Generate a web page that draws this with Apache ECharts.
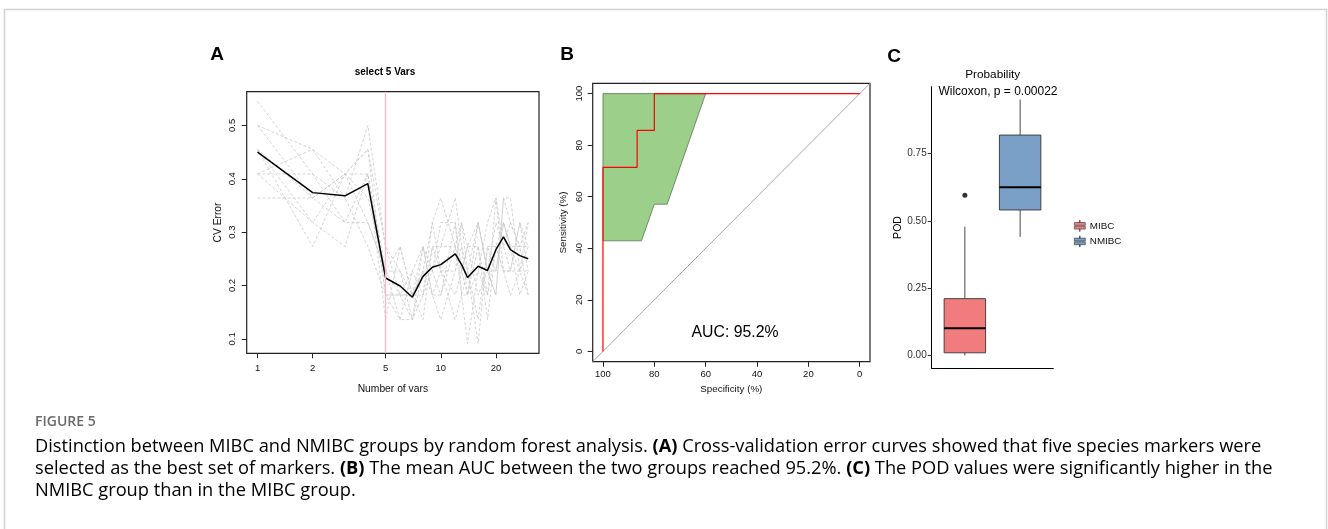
<!DOCTYPE html>
<html><head><meta charset="utf-8">
<script src="https://cdn.jsdelivr.net/npm/echarts@6/dist/echarts.min.js"></script>
<style>html,body{margin:0;padding:0;background:#fff;}#c{width:1328px;height:529px;}</style>
</head><body><div id="c"></div>
<script>
// ---------- Panel A: rfcv cross-validation error ----------
const nVars = [1,2,3,4,5,6,7,8,9,10,12,13,14,16,18,20,22,24,27,30];
const cvErrorMean = [0.450,0.374,0.368,0.391,0.214,0.199,0.178,0.217,0.234,0.239,0.259,0.239,0.215,0.236,0.228,0.267,0.291,0.267,0.256,0.250];
const cvRep1  = [0.545,0.409,0.364,0.500,0.273,0.182,0.136,0.227,0.318,0.364,0.273,0.182,0.091,0.227,0.318,0.364,0.273,0.227,0.318,0.273];
const cvRep2  = [0.500,0.455,0.409,0.318,0.227,0.273,0.182,0.273,0.182,0.136,0.227,0.318,0.273,0.318,0.227,0.182,0.364,0.364,0.227,0.318];
const cvRep3  = [0.500,0.364,0.409,0.455,0.182,0.136,0.227,0.182,0.273,0.273,0.364,0.273,0.227,0.091,0.273,0.273,0.318,0.273,0.273,0.182];
const cvRep4  = [0.455,0.318,0.273,0.409,0.227,0.227,0.136,0.273,0.227,0.318,0.318,0.227,0.273,0.273,0.182,0.364,0.227,0.182,0.227,0.227];
const cvRep5  = [0.455,0.364,0.318,0.409,0.136,0.273,0.182,0.136,0.273,0.227,0.182,0.227,0.182,0.318,0.227,0.318,0.273,0.318,0.273,0.273];
const cvRep6  = [0.455,0.273,0.409,0.364,0.227,0.182,0.182,0.227,0.227,0.182,0.273,0.318,0.227,0.136,0.273,0.227,0.318,0.273,0.182,0.227];
const cvRep7  = [0.409,0.455,0.364,0.273,0.182,0.182,0.227,0.273,0.182,0.227,0.136,0.182,0.182,0.273,0.136,0.273,0.227,0.227,0.227,0.182];
const cvRep8  = [0.409,0.318,0.409,0.455,0.273,0.227,0.182,0.182,0.227,0.273,0.273,0.227,0.273,0.182,0.227,0.182,0.364,0.318,0.273,0.318];
const cvRep9  = [0.409,0.409,0.318,0.318,0.227,0.136,0.136,0.182,0.318,0.227,0.227,0.273,0.182,0.227,0.182,0.273,0.227,0.227,0.318,0.227];
const cvRep10 = [0.364,0.364,0.409,0.409,0.182,0.182,0.182,0.227,0.182,0.182,0.318,0.182,0.227,0.318,0.227,0.227,0.318,0.273,0.227,0.273];
const cvReplicates = [cvRep1,cvRep2,cvRep3,cvRep4,cvRep5,cvRep6,cvRep7,cvRep8,cvRep9,cvRep10];
const selectedVars = 5;
const cvXTicks = [1,2,5,10,20];
const cvYTicks = [0.1,0.2,0.3,0.4,0.5];

// ---------- Panel B: ROC ----------
const rocSpecificity = [100,100,86.7,86.7,80,80,0];
const rocSensitivity = [0,71.4,71.4,85.7,85.7,100,100];
const ciSpecificity = [100,100,60,75,80,85];
const ciSensitivity = [42.9,100,100,57.1,57.1,42.9];
const rocTicks = [0,20,40,60,80,100];
const aucLabel = 'AUC: 95.2%';

// ---------- Panel C: POD boxplot ----------
const groups = ['MIBC','NMIBC'];
const podLow = [0.000,0.440];
const podQ1 = [0.010,0.540];
const podMedian = [0.101,0.624];
const podQ3 = [0.211,0.818];
const podHigh = [0.478,0.950];
const podOutlierGroup = ['MIBC'];
const podOutlierValue = [0.595];
const podTicks = [0,0.25,0.5,0.75];

// ---------- caption ----------
const captionHead = 'FIGURE 5';
const captionLines = [
  [['r','Distinction between MIBC and NMIBC groups by random forest analysis. '],['b','(A)'],['r',' Cross-validation error curves showed that five species markers were']],
  [['r','selected as the best set of markers. '],['b','(B)'],['r',' The mean AUC between the two groups reached 95.2%. '],['b','(C)'],['r',' The POD values were significantly higher in the']],
  [['r','NMIBC group than in the MIBC group.']]
];

const FONT = '"Liberation Sans", Arial, Helvetica, sans-serif';
const CAPFONT = '"Open Sans", "Noto Sans", sans-serif';
const boxColors = ['#f07c7e','#7aa0c8'];

// R-style 4% / ggplot 5% range extension
function ext(lo, hi, f){ const d=(hi-lo)*f; return [lo-d, hi+d]; }
const allCv = [].concat(...cvReplicates, cvErrorMean);
const aY = ext(Math.min(...allCv), Math.max(...allCv), 0.04);
const aXlog = ext(Math.log10(nVars[0]), Math.log10(nVars[nVars.length-1]), 0.04);
const bR = ext(0, 100, 0.04);
const cY = ext(Math.min(...podLow, ...podOutlierValue), Math.max(...podHigh, ...podOutlierValue), 0.05);

// caption font fitting: line 1 spans ~1227 px in the reference
const cv = document.createElement('canvas').getContext('2d');
function lineWidth(line, fs){ let w=0; line.forEach(([t,s])=>{ cv.font=(t==='b'?'bold ':'')+fs+'px '+CAPFONT; w+=cv.measureText(s).width;}); return w; }
const capFs = 16 * 1227 / lineWidth(captionLines[0], 16);

const tickLbl = {fontFamily: FONT, fontSize: 9.5, color: '#111'};
const nameTxt = {fontFamily: FONT, fontSize: 10.3, color: '#111'};
const noZero = {onZero:false};

const chart = echarts.init(document.getElementById('c'), null, {renderer:'canvas'});

const grids = [
  {left: 246.7, top: 91.7, width: 292.3, height: 261.6, show: true, borderColor: '#222', borderWidth: 1.2, backgroundColor: 'transparent'},
  {left: 592.7, top: 83.3, width: 277.3, height: 278.4, show: true, borderColor: '#222', borderWidth: 1.2, backgroundColor: 'transparent'},
  {left: 931.7, top: 86.7, width: 121.6, height: 281.6}
];

const xAxes = [
  {type:'log', logBase:10, gridIndex:0, position:'bottom', min: Math.pow(10,aXlog[0]), max: Math.pow(10,aXlog[1]),
   axisLine:{show:false, ...noZero}, axisTick:{show:false}, axisLabel:{show:false}, splitLine:{show:false}},
  {type:'value', gridIndex:0, position:'bottom', min: aXlog[0], max: aXlog[1],
   axisLine:{show:false, ...noZero}, splitLine:{show:false},
   axisTick:{show:true, inside:false, length:5, lineStyle:{color:'#222'}, customValues: cvXTicks.map(Math.log10)},
   axisLabel:{show:true, margin:10, ...tickLbl, customValues: cvXTicks.map(Math.log10), formatter: v => String(Math.round(Math.pow(10, v)))},
   name:'Number of vars', nameLocation:'middle', nameGap:31, nameTextStyle: nameTxt},
  {type:'value', gridIndex:1, position:'bottom', inverse:true, min:bR[0], max:bR[1],
   axisLine:{show:false, ...noZero}, splitLine:{show:false},
   axisTick:{show:true, length:5, lineStyle:{color:'#222'}, customValues: rocTicks},
   axisLabel:{margin:8, ...tickLbl, customValues: rocTicks},
   name:'Specificity (%)', nameLocation:'middle', nameGap:23, nameTextStyle:{...nameTxt, fontSize:9.8}},
  {type:'value', gridIndex:2, position:'bottom', min:0.4, max:2.6,
   axisLine:{show:true, ...noZero, lineStyle:{color:'#000', width:1}}, axisTick:{show:false}, axisLabel:{show:false}, splitLine:{show:false}}
];

const yAxes = [
  {type:'value', gridIndex:0, position:'left', min:aY[0], max:aY[1],
   axisLine:{show:false, ...noZero}, splitLine:{show:false},
   axisTick:{show:true, length:5, lineStyle:{color:'#222'}, customValues: cvYTicks},
   axisLabel:{rotate:90, margin:9, ...tickLbl, customValues: cvYTicks, formatter: v => String(+v.toFixed(1))},
   name:'CV Error', nameLocation:'middle', nameGap:24, nameTextStyle: nameTxt},
  {type:'value', gridIndex:1, position:'left', min:bR[0], max:bR[1],
   axisLine:{show:false, ...noZero}, splitLine:{show:false},
   axisTick:{show:true, length:5, lineStyle:{color:'#222'}, customValues: rocTicks},
   axisLabel:{rotate:90, margin:8, ...tickLbl, customValues: rocTicks},
   name:'Sensitivity (%)', nameLocation:'middle', nameGap:24, nameTextStyle:{...nameTxt, fontSize:9.8}},
  {type:'value', gridIndex:2, position:'left', min:cY[0], max:cY[1],
   axisLine:{show:true, ...noZero, lineStyle:{color:'#000', width:1}}, splitLine:{show:false},
   axisTick:{show:true, length:4, lineStyle:{color:'#333'}, customValues: podTicks},
   axisLabel:{margin:5, fontFamily:FONT, fontSize:10, color:'#333', customValues: podTicks, formatter: v => v.toFixed(2)},
   name:'POD', nameLocation:'middle', nameGap:28, nameTextStyle:{fontFamily:FONT, fontSize:10.5, color:'#000'}}
];

const series = [];
cvReplicates.forEach((rep, r) => {
  series.push({type:'line', name:'rep'+(r+1), xAxisIndex:0, yAxisIndex:0, silent:true, symbol:'none',
    data: nVars.map((n,i)=>[n, rep[i]]), lineStyle:{color:'#c9c9c9', width:0.8, type:[3,2]}, z:2});
});
series.push({type:'line', name:'mean', xAxisIndex:0, yAxisIndex:0, silent:true, symbol:'none',
  data: nVars.map((n,i)=>[n, cvErrorMean[i]]), lineStyle:{color:'#000', width:1.5}, z:4,
  markLine:{silent:true, symbol:'none', label:{show:false}, lineStyle:{color:'#f4b9c5', width:1.2, type:'solid'},
    data:[{xAxis: selectedVars}]}});

// Panel B
series.push({type:'line', name:'diag', xAxisIndex:2, yAxisIndex:1, silent:true, symbol:'none',
  data:[[bR[1], bR[0]],[bR[0], bR[1]]], lineStyle:{color:'#a6a6a6', width:1}, z:2});
series.push({type:'custom', name:'ci', xAxisIndex:2, yAxisIndex:1, silent:true, z:3,
  data: ciSpecificity.map((s,i)=>[s, ciSensitivity[i]]),
  renderItem: (params, api) => {
    if (params.dataIndex !== 0) return null;
    const pts = ciSpecificity.map((s,i)=>api.coord([s, ciSensitivity[i]]));
    return {type:'polygon', shape:{points:pts}, style:{fill:'#9ccf8a', stroke:'#4a6846', lineWidth:0.7}};
  }});
series.push({type:'line', name:'roc', xAxisIndex:2, yAxisIndex:1, silent:true, symbol:'none',
  data: rocSpecificity.map((s,i)=>[s, rocSensitivity[i]]), lineStyle:{color:'#ff0000', width:1.2}, z:5});

// Panel C
groups.forEach((g, i) => {
  series.push({type:'custom', name:g, xAxisIndex:3, yAxisIndex:2, silent:true, z:3,
    itemStyle:{color: boxColors[i], borderColor:'#333', borderWidth:0.7},
    data:[[i+1, podLow[i], podQ1[i], podMedian[i], podQ3[i], podHigh[i]]],
    encode:{x:0, y:[1,2,3,4,5]},
    renderItem: (params, api) => {
      const x = api.value(0);
      const lo = api.coord([x, api.value(1)]), q1 = api.coord([x, api.value(2)]),
            md = api.coord([x, api.value(3)]), q3 = api.coord([x, api.value(4)]), hi = api.coord([x, api.value(5)]);
      const w = api.size([0.75, 0])[0];
      const cx = lo[0];
      return {type:'group', children:[
        {type:'line', shape:{x1:cx, y1:lo[1], x2:cx, y2:q1[1]}, style:{stroke:'#333', lineWidth:0.9}},
        {type:'line', shape:{x1:cx, y1:q3[1], x2:cx, y2:hi[1]}, style:{stroke:'#333', lineWidth:0.9}},
        {type:'rect', shape:{x:cx-w/2, y:q3[1], width:w, height:q1[1]-q3[1]}, style:{fill:boxColors[i], stroke:'#333', lineWidth:0.9}},
        {type:'line', shape:{x1:cx-w/2, y1:md[1], x2:cx+w/2, y2:md[1]}, style:{stroke:'#000', lineWidth:2}}
      ]};
    }});
});
series.push({type:'scatter', name:'outlier', xAxisIndex:3, yAxisIndex:2, silent:true, symbolSize:5,
  data: podOutlierGroup.map((g,i)=>[groups.indexOf(g)+1, podOutlierValue[i]]), itemStyle:{color:'#000'}, z:6});

const richBase = {fontFamily: CAPFONT, fontSize: capFs, color:'#7c7c7c'};
const captionGraphics = captionLines.map((line, li) => ({
  type:'text', left: 35, top: 438 + li*22, silent:true,
  style:{
    text: line.map(([t,s]) => '{'+t+'|'+s+'}').join(''),
    rich:{ r: {...richBase}, b: {...richBase, fontWeight:'bold', color:'#666'} }
  }
}));

const txt = (text, x, y, opt) => ({type:'text', x, y, silent:true,
  style: Object.assign({text, fontFamily:FONT, fill:'#000', align:'center', verticalAlign:'middle'}, opt)});

chart.setOption({
  animation:false,
  backgroundColor:'#fff',
  grid: grids,
  xAxis: xAxes,
  yAxis: yAxes,
  legend:{data: groups, orient:'vertical', left:1069, top:215, itemWidth:12, itemHeight:11, itemGap:4,
    icon:'path://M0,2H10V4.6H0Z M0,5.4H10V8H0Z M4.7,0H5.3V2H4.7Z M4.7,8H5.3V10H4.7Z',
    itemStyle:{borderColor:'#333', borderWidth:0.6},
    textStyle:{fontFamily:FONT, fontSize:9.8, color:'#111', padding:[0,0,0,-1]}, selectedMode:false},
  series,
  graphic: [
    {type:'rect', silent:true, shape:{x:4.5, y:9.5, width:1322, height:560}, style:{fill:'none', stroke:'#d2d2d2', lineWidth:1.5}},
    txt('A', 217, 55, {fontSize:19, fontWeight:'bold'}),
    txt('B', 567, 55, {fontSize:19, fontWeight:'bold'}),
    txt('C', 894, 57, {fontSize:19, fontWeight:'bold'}),
    txt('select 5 Vars', 385, 72.5, {fontSize:10, fontWeight:'bold'}),
    txt(aucLabel, 735, 333, {fontSize:15.8}),
    txt('Probability', 992.7, 75, {fontSize:11.8}),
    txt('Wilcoxon, p = 0.00022', 998, 91.5, {fontSize:12}),
    {type:'text', left:35, top:415, silent:true, style:{text: captionHead, fontFamily:CAPFONT, fontSize:14, fontWeight:600, fill:'#6a6a6a'}},
    ...captionGraphics
  ]
});
</script></body></html>
